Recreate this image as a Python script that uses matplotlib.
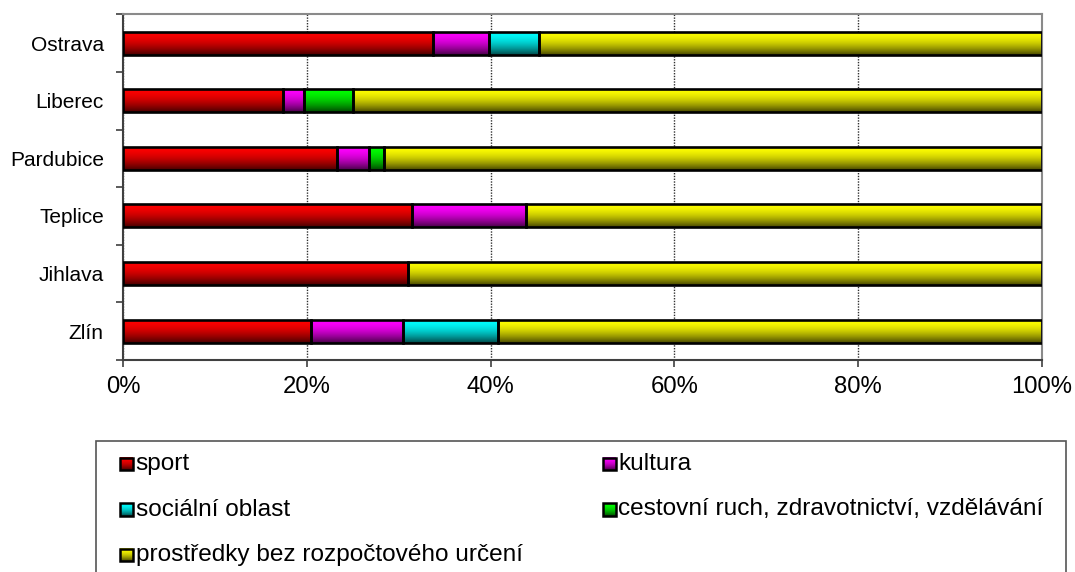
import numpy as np
import matplotlib
matplotlib.use("Agg")
import matplotlib.pyplot as plt
from matplotlib.patches import Rectangle
from matplotlib.ticker import FixedLocator, PercentFormatter

plt.rcParams['font.family'] = ['Liberation Sans', 'DejaVu Sans']

# ---- data ----
cities = ["Ostrava", "Liberec", "Pardubice", "Teplice", "Jihlava", "Zlín"]
series_names = ["sport", "kultura", "sociální oblast",
                "cestovní ruch, zdravotnictví, vzdělávání",
                "prostředky bez rozpočtového určení"]
sport = [33.7, 17.4, 23.3, 31.4, 31.0, 20.4]
kultura = [6.1, 2.3, 3.5, 12.4, 0.0, 10.1]
socialni = [5.5, 0.0, 0.0, 0.0, 0.0, 10.3]
cestovni = [0.0, 5.3, 1.6, 0.0, 0.0, 0.0]
bez_urceni = [54.7, 75.0, 71.6, 56.2, 69.0, 59.2]
x_ticks = [0, 20, 40, 60, 80, 100]

series = [sport, kultura, socialni, cestovni, bez_urceni]
colors = ["#FF0000", "#FF00FF", "#00FFFF", "#00FF00", "#FFFF00"]

W, H = 1075, 572
FS = 15.0
FSX = 17.2
FSL = 17.6
fig = plt.figure(figsize=(W / 100, H / 100), dpi=100)
ax = fig.add_axes([123.3 / W, 1 - 360 / H, (1041.7 - 123.3) / W, (360 - 14.3) / H])


def gradient_img(color, n=64):
    rgb = np.array(matplotlib.colors.to_rgb(color))
    t = np.linspace(0, 1, n)[:, None]
    f = 1.0 - 0.72 * t ** 1.8
    return (rgb[None, :] * f)[:, None, :]


ypos = np.arange(len(cities))
left = np.zeros(len(cities))
for vals, col in zip(series, colors):
    bars = ax.barh(ypos, vals, left=left, height=0.4, facecolor="none",
                   edgecolor="black", linewidth=1.9, zorder=3)
    for b, v in zip(bars, vals):
        if v <= 0:
            b.set_visible(False)
            continue
        x0, y0, w, h = b.get_x(), b.get_y(), b.get_width(), b.get_height()
        im = ax.imshow(gradient_img(col), extent=(x0, x0 + w, y0 + h, y0),
                       aspect="auto", zorder=2, interpolation="bilinear")
        im.set_clip_path(b)
    left += np.array(vals)

ax.set_xlim(0, 100)
ax.set_ylim(len(cities) - 0.5, -0.5)

ax.set_yticks(ypos)
ax.set_yticklabels(cities)
ax.yaxis.set_minor_locator(FixedLocator(np.arange(-0.5, len(cities), 1.0)))
ax.tick_params(axis="y", which="major", length=0, pad=14, labelsize=FS)
ax.tick_params(axis="y", which="minor", length=5, width=1.2, color="#404040")

ax.set_xticks(x_ticks)
ax.xaxis.set_major_formatter(PercentFormatter(decimals=0))
ax.tick_params(axis="x", which="major", length=5, width=1.2, color="#404040",
               pad=6.5, labelsize=FSX)

ax.grid(axis="x", color="#303030", linestyle=(0, (1, 1)), linewidth=1.0, zorder=1)
ax.set_axisbelow(True)

for s in ["left", "bottom"]:
    ax.spines[s].set_color("#404040")
    ax.spines[s].set_linewidth(1.5)
for s in ["top", "right"]:
    ax.spines[s].set_color("#8a8a8a")
    ax.spines[s].set_linewidth(1.5)

# ---- legend (drawn in pixel coordinates on an overlay) ----
lg = fig.add_axes([0, 0, 1, 1], zorder=5)
lg.set_xlim(0, W)
lg.set_ylim(H, 0)
lg.axis("off")
lg.add_patch(Rectangle((96, 441), 1065.7 - 96, 200, facecolor="white",
                       edgecolor="#555555", linewidth=1.2))
item_pos = [(120, 464), (603, 464), (120, 509.5), (603, 509.5), (120, 555)]
sz = 12.5
for (px, py), name, col in zip(item_pos, series_names, colors):
    lg.imshow(gradient_img(col), extent=(px, px + sz, py + sz / 2, py - sz / 2),
              aspect="auto", zorder=6, interpolation="bilinear")
    lg.add_patch(Rectangle((px, py - sz / 2), sz, sz, facecolor="none",
                           edgecolor="black", linewidth=1.8, zorder=7))
    lg.text(px + sz + 3, py, name, fontsize=FSL, va="center", ha="left", zorder=7)
lg.set_xlim(0, W)
lg.set_ylim(H, 0)

fig.savefig("out.png", dpi=100)
